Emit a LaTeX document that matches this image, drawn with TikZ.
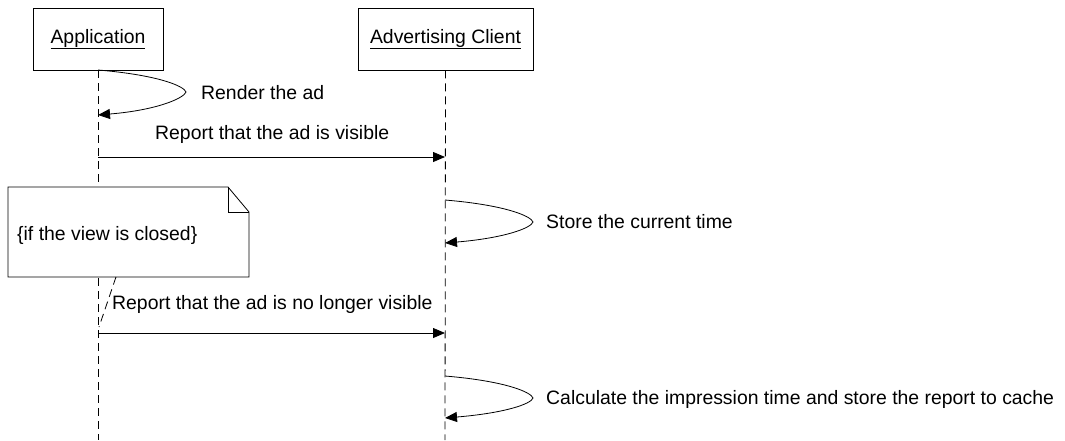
\documentclass[tikz,border=0pt]{standalone}
\usepackage{fontspec}
\setmainfont{Liberation Sans}
\usetikzlibrary{arrows.meta}
\begin{document}
\begin{tikzpicture}[x=1pt,y=-1pt,
  every node/.style={font=\fontsize{19.4}{23}\selectfont},
  actor/.style={draw,line width=0.8pt,minimum width=#1,minimum height=62pt,inner sep=0pt},
  life/.style={line width=0.8pt,dash pattern=on 8pt off 5pt},
  msg/.style={line width=0.8pt,-{Triangle[length=12pt,width=10pt]}},
  lbl/.style={inner sep=0pt,anchor=base west},
  notebox/.style={line width=0.8pt}]
\useasboundingbox (0,0) rectangle (1065,440);
% actors
\node[actor=130pt] (app) at (98,39) {\underline{Application}};
\node[actor=175pt] (adv) at (445.5,39) {\underline{Advertising Client}};
\coordinate (append) at (98,440);
\coordinate (advend) at (445,440);
\draw[life] (app.south) -- (append);
\draw[life] (adv.south) -- (advend);
% lifeline points
\coordinate (a1s) at (98,70);  \coordinate (a1e) at (98,115);
\coordinate (a2) at (98,157);  \coordinate (b2) at (445,157);
\coordinate (b3s) at (445,200); \coordinate (b3e) at (445,243);
\coordinate (a4) at (98,333);  \coordinate (b4) at (445,333);
\coordinate (b5s) at (445,376); \coordinate (b5e) at (445,418);
% self message 1
\draw[msg] (a1s) .. controls +(60,5) and +(-2,-6) .. ++(88,22) coordinate (t1)
  .. controls +(-2,6) and +(60,-5) .. (a1e);
\node[lbl] (l1) at (201,99) {Render the ad};
% message 2
\draw[msg] (a2) -- (b2);
\node[lbl] (l2) at (155,139) {Report that the ad is visible};
% self message 3
\draw[msg] (b3s) .. controls +(60,5) and +(-2,-6) .. ++(88,22) coordinate (t3)
  .. controls +(-2,6) and +(60,-5) .. (b3e);
\node[lbl] (l3) at (546,228) {Store the current time};
% note
\draw[notebox,fill=white] (8,187) -- (228,187) -- (249,212) -- (249,277) -- (8,277) -- cycle;
\draw[notebox] (228,187) -- (228,212) -- (249,212);
\node[lbl] (note) at (17,240) {\{if the view is closed\}};
\coordinate (nb) at (116,277);
\coordinate (nl) at (99,327);
\draw[life] (nb) -- (nl);
% message 4
\draw[msg] (a4) -- (b4);
\node[lbl] (l4) at (112,309) {Report that the ad is no longer visible};
% self message 5
\draw[msg] (b5s) .. controls +(60,5) and +(-2,-6) .. ++(88,22) coordinate (t5)
  .. controls +(-2,6) and +(60,-5) .. (b5e);
\node[lbl] (l5) at (546,404) {Calculate the impression time and store the report to cache};
\end{tikzpicture}
\end{document}
